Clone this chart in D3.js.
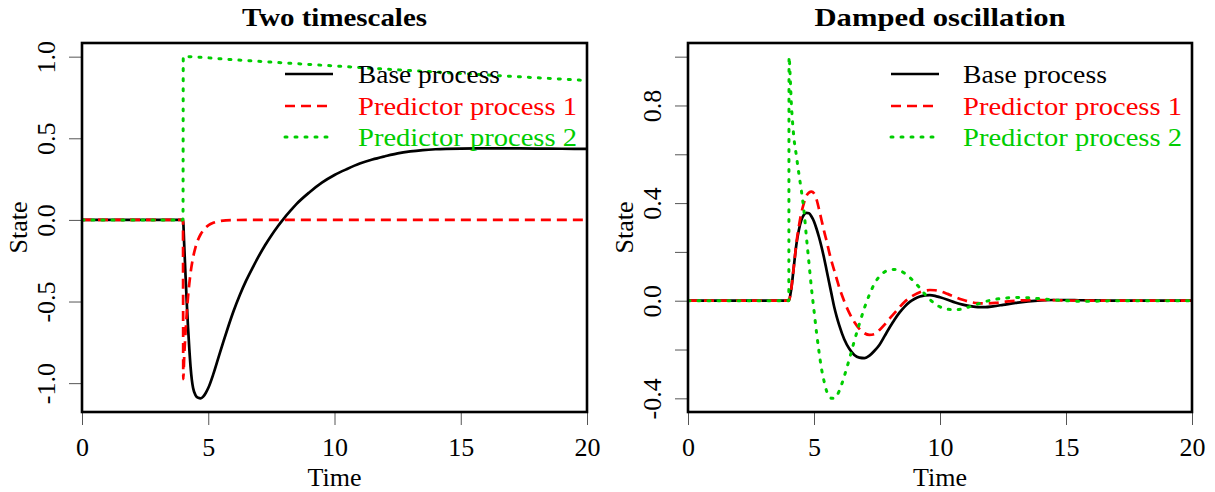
<!DOCTYPE html>
<html><head><meta charset="utf-8">
<script src="https://cdn.jsdelivr.net/npm/d3@7"></script>
<style>
body{margin:0;background:#fff}
svg{display:block}
text{font-family:"Liberation Serif","Times New Roman",serif}
</style>
</head><body>
<svg id="chart" width="1215" height="492"></svg>
<script>
// ---------- data ----------
const panelTitles = ["Two timescales", "Damped oscillation"];
const seriesNames = ["Base process", "Predictor process 1", "Predictor process 2"];
const xTicks = [0, 5, 10, 15, 20];
const leftYTicks = [-1, -0.5, 0, 0.5, 1];
const leftYLabels = ["-1.0", "-0.5", "0.0", "0.5", "1.0"];
const rightYTicks = [-0.4, -0.2, 0, 0.2, 0.4, 0.6, 0.8, 1.0];
const rightYLabels = ["-0.4", "", "0.0", "", "0.4", "", "0.8", ""];

// [time, state]
const twoBase = [[0,0],[4,0],[4.05,-0.16],[4.1,-0.34],[4.15,-0.51],[4.2,-0.66],[4.25,-0.79],[4.3,-0.9],[4.35,-0.98],[4.4,-1.03],[4.5,-1.075],[4.6,-1.09],[4.7,-1.093],[4.8,-1.083],[4.9,-1.06],[5.0,-1.03],[5.2,-0.945],[5.4,-0.845],[5.6,-0.745],[5.8,-0.65],[6.0,-0.56],[6.25,-0.46],[6.5,-0.372],[6.75,-0.295],[7.0,-0.222],[7.25,-0.155],[7.5,-0.095],[7.75,-0.04],[8.0,0.01],[8.25,0.055],[8.5,0.098],[9.0,0.168],[9.5,0.228],[10,0.275],[10.5,0.312],[11,0.345],[11.5,0.37],[12,0.39],[12.5,0.408],[13,0.42],[13.5,0.428],[14,0.433],[15,0.437],[16,0.438],[17,0.438],[18,0.437],[19,0.436],[20,0.435]];
const twoPred1 = [[0,0],[4,0],[4.01,-0.975],[4.05,-0.83],[4.1,-0.69],[4.15,-0.57],[4.2,-0.47],[4.25,-0.39],[4.3,-0.325],[4.4,-0.23],[4.5,-0.165],[4.6,-0.12],[4.7,-0.088],[4.8,-0.064],[4.9,-0.046],[5.0,-0.034],[5.2,-0.018],[5.4,-0.009],[5.7,-0.003],[6.2,-0.0005],[7,0],[20,0]];
const twoPred2 = [[0,0],[4,0],[4.01,1.0],[6,0.981],[8,0.962],[10,0.943],[12,0.924],[14,0.906],[16,0.888],[18,0.871],[20,0.854]];

const dampBase = [[0,0],[4,0],[4.1,0.05],[4.2,0.14],[4.3,0.23],[4.4,0.29],[4.5,0.33],[4.6,0.352],[4.7,0.36],[4.8,0.358],[4.9,0.345],[5.0,0.325],[5.1,0.295],[5.2,0.26],[5.3,0.22],[5.4,0.175],[5.5,0.125],[5.6,0.075],[5.7,0.025],[5.8,-0.025],[5.9,-0.065],[6.0,-0.1],[6.2,-0.158],[6.4,-0.197],[6.6,-0.222],[6.8,-0.233],[7.0,-0.235],[7.2,-0.225],[7.4,-0.205],[7.6,-0.18],[7.8,-0.145],[8.0,-0.11],[8.2,-0.077],[8.4,-0.048],[8.6,-0.024],[8.8,-0.005],[9.0,0.008],[9.2,0.017],[9.4,0.022],[9.6,0.023],[9.8,0.02],[10.0,0.014],[10.3,0.004],[10.6,-0.007],[10.9,-0.016],[11.2,-0.022],[11.5,-0.026],[11.8,-0.026],[12.1,-0.023],[12.5,-0.017],[13,-0.009],[13.5,-0.003],[14,0.001],[14.5,0.003],[15,0.003],[15.5,0.002],[16,0.001],[17,0],[20,0]];
const dampPred1 = [[0,0],[4,0],[4.1,0.05],[4.2,0.14],[4.3,0.235],[4.4,0.305],[4.5,0.36],[4.6,0.40],[4.7,0.43],[4.8,0.443],[4.9,0.447],[5.0,0.44],[5.1,0.415],[5.2,0.375],[5.3,0.33],[5.4,0.285],[5.5,0.245],[5.6,0.2],[5.7,0.16],[5.8,0.125],[5.9,0.09],[6.0,0.055],[6.2,-0.002],[6.4,-0.05],[6.6,-0.087],[6.8,-0.115],[7.0,-0.133],[7.2,-0.14],[7.4,-0.137],[7.6,-0.12],[7.8,-0.098],[8.0,-0.073],[8.2,-0.05],[8.4,-0.026],[8.6,-0.004],[8.8,0.012],[9.0,0.025],[9.2,0.035],[9.4,0.041],[9.6,0.044],[9.8,0.043],[10.0,0.039],[10.3,0.028],[10.6,0.015],[10.9,0.004],[11.2,-0.005],[11.5,-0.01],[11.8,-0.011],[12.2,-0.009],[12.6,-0.004],[13,0],[13.5,0.002],[14,0.003],[15,0.001],[16,0],[20,0]];
const dampPred2 = [[0,0],[4,0],[4.01,1.0],[4.05,0.93],[4.1,0.81],[4.15,0.73],[4.2,0.67],[4.3,0.595],[4.4,0.52],[4.5,0.45],[4.6,0.37],[4.7,0.26],[4.8,0.155],[4.9,0.05],[5.0,-0.04],[5.1,-0.13],[5.2,-0.21],[5.3,-0.28],[5.4,-0.33],[5.5,-0.37],[5.6,-0.39],[5.7,-0.40],[5.8,-0.40],[5.9,-0.39],[6.0,-0.37],[6.2,-0.31],[6.4,-0.24],[6.6,-0.165],[6.8,-0.095],[7.0,-0.03],[7.2,0.025],[7.4,0.07],[7.6,0.1],[7.8,0.118],[8.0,0.126],[8.2,0.128],[8.4,0.124],[8.6,0.112],[8.8,0.095],[9.0,0.075],[9.2,0.052],[9.4,0.027],[9.6,0.005],[9.8,-0.013],[10.0,-0.025],[10.3,-0.035],[10.6,-0.037],[10.9,-0.033],[11.2,-0.024],[11.6,-0.01],[12.0,0.002],[12.5,0.01],[13.0,0.013],[13.5,0.012],[14.0,0.008],[14.5,0.003],[15,0],[15.5,-0.002],[16,-0.002],[17,0],[20,0]];

// ---------- styles ----------
const seriesColors = ["#000000", "#FF0000", "#00CD00"];
const seriesDash = [null, "10,6", "2,8"];
const seriesCap = ["round", "butt", "round"];
const seriesWidth = [2.7, 2.7, 3.0];
const FS = 26;

const svg = d3.select("#chart");

function drawPanel(cfg) {
  const {left, right, top, bottom, title, series, yTicks, yLabels, legendX, textX, titleW, legendW} = cfg;
  const all = series.flat();
  const [ymin, ymax] = d3.extent(all, d => d[1]);
  const pad = (ymax - ymin) * 0.04;
  const x = d3.scaleLinear().domain([0, 20]).range([left, right]);
  const y = d3.scaleLinear().domain([ymin - pad, ymax + pad]).range([bottom, top]);
  const g = svg.append("g");

  // title
  g.append("text").attr("x", (left + right) / 2).attr("y", 26)
    .attr("text-anchor", "middle").attr("font-weight", "bold").attr("font-size", FS)
    .attr("textLength", titleW).attr("lengthAdjust", "spacingAndGlyphs")
    .text(title);

  // x axis
  const xa = g.append("g").attr("transform", `translate(0,${bottom})`)
    .call(d3.axisBottom(x).tickValues(xTicks).tickSize(13).tickSizeOuter(0).tickFormat(d3.format("d")));
  xa.select(".domain").remove();
  xa.selectAll(".tick line").attr("stroke", "#555").attr("stroke-width", 1);
  xa.selectAll(".tick text").attr("y", 44).attr("dy", 0).attr("font-size", FS)
    .attr("font-family", "Liberation Serif").attr("fill", "#000");

  // y axis
  const ya = g.append("g").attr("transform", `translate(${left},0)`)
    .call(d3.axisLeft(y).tickValues(yTicks).tickSize(13).tickSizeOuter(0)
      .tickFormat((d, i) => yLabels[i]));
  ya.select(".domain").remove();
  ya.selectAll(".tick line").attr("stroke", "#555").attr("stroke-width", 1);
  ya.selectAll(".tick text").attr("transform", "rotate(-90)").attr("x", 0).attr("y", -27)
    .attr("dy", 0).attr("text-anchor", "middle").attr("font-size", FS)
    .attr("font-family", "Liberation Serif").attr("fill", "#000");

  // axis titles
  g.append("text").attr("x", (left + right) / 2).attr("y", 486).attr("text-anchor", "middle")
    .attr("font-size", FS).text("Time");
  g.append("text").attr("transform", `translate(${left - 55},${(top + bottom) / 2}) rotate(-90)`)
    .attr("text-anchor", "middle").attr("font-size", FS).text("State");

  // lines
  const clipId = "clip" + left;
  svg.append("clipPath").attr("id", clipId).append("rect")
    .attr("x", left).attr("y", top).attr("width", right - left).attr("height", bottom - top);
  const line = d3.line().x(d => x(d[0])).y(d => y(d[1])).curve(d3.curveMonotoneX);
  const lg = g.append("g").attr("clip-path", `url(#${clipId})`);
  series.forEach((s, i) => {
    lg.append("path").attr("d", line(s)).attr("fill", "none")
      .attr("stroke", seriesColors[i]).attr("stroke-width", seriesWidth[i])
      .attr("stroke-linecap", seriesCap[i]).attr("stroke-linejoin", "round")
      .attr("stroke-dasharray", seriesDash[i]);
  });

  // box
  g.append("rect").attr("x", left).attr("y", top).attr("width", right - left).attr("height", bottom - top)
    .attr("fill", "none").attr("stroke", "#000").attr("stroke-width", 2.6);

  // legend
  const rowsY = [74, 106, 137];
  seriesNames.forEach((name, i) => {
    g.append("line").attr("x1", legendX).attr("x2", legendX + 48).attr("y1", rowsY[i]).attr("y2", rowsY[i])
      .attr("stroke", seriesColors[i]).attr("stroke-width", seriesWidth[i])
      .attr("stroke-linecap", seriesCap[i] === "round" && i === 0 ? "butt" : seriesCap[i])
      .attr("stroke-dasharray", seriesDash[i]);
    g.append("text").attr("x", textX).attr("y", rowsY[i] + 9).attr("font-size", FS)
      .attr("fill", seriesColors[i])
      .attr("textLength", legendW[i]).attr("lengthAdjust", "spacingAndGlyphs")
      .text(name);
  });
}

drawPanel({left: 82, right: 587, top: 43, bottom: 412, title: panelTitles[0],
  series: [twoBase, twoPred1, twoPred2], yTicks: leftYTicks, yLabels: leftYLabels,
  legendX: 285, textX: 358, titleW: 185, legendW: [142, 219, 219]});
drawPanel({left: 688, right: 1192, top: 43, bottom: 412, title: panelTitles[1],
  series: [dampBase, dampPred1, dampPred2], yTicks: rightYTicks, yLabels: rightYLabels,
  legendX: 891, textX: 963, titleW: 251, legendW: [144, 219, 219]});
</script>
</body></html>
